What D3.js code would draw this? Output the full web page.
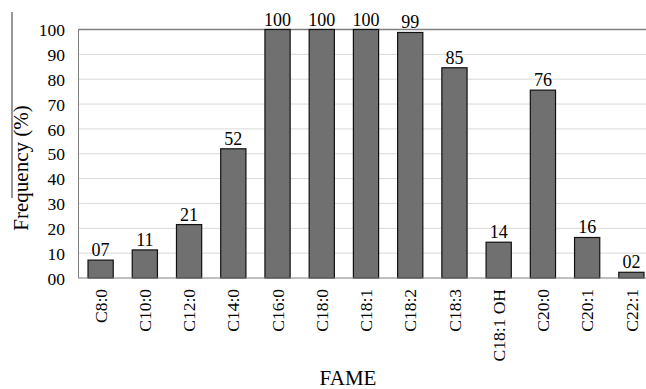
<!DOCTYPE html>
<html><head><meta charset="utf-8">
<script src="https://cdn.jsdelivr.net/npm/d3@7"></script>
<style>body{margin:0;background:#fff}svg{display:block}text{font-family:"Liberation Serif","Times New Roman",serif;fill:#000}</style>
</head><body>
<script>
const categories = ["C8:0","C10:0","C12:0","C14:0","C16:0","C18:0","C18:1","C18:2","C18:3","C18:1 OH","C20:0","C20:1","C22:1"];
const values = [7.2, 11.3, 21.5, 52, 100, 100, 100, 98.8, 84.6, 14.4, 75.6, 16.3, 2.3];
const valueLabels = ["07","11","21","52","100","100","100","99","85","14","76","16","02"];
const yTicks = [0,10,20,30,40,50,60,70,80,90,100];
const yTickLabels = ["00","10","20","30","40","50","60","70","80","90","100"];

const W = 646, H = 389;
const svg = d3.select("body").append("svg").attr("width", W).attr("height", H);
const x = d3.scaleBand().domain(categories).range([78, 653]).paddingInner(0.43).paddingOuter(0.215);
const y = d3.scaleLinear().domain([0, 100]).range([278, 29.5]);

// grid
svg.append("g").selectAll("line").data(yTicks.filter(d => d > 0 && d < 100)).join("line")
  .attr("x1", 78).attr("x2", W).attr("y1", d => y(d)).attr("y2", d => y(d))
  .attr("stroke", "#d9d9d9").attr("stroke-width", 1);
// top border and left line
svg.append("line").attr("x1", 78).attr("x2", W).attr("y1", y(100)).attr("y2", y(100)).attr("stroke", "#808080").attr("stroke-width", 1.5);
svg.append("line").attr("x1", 78.5).attr("x2", 78.5).attr("y1", y(100)).attr("y2", y(0)).attr("stroke", "#808080").attr("stroke-width", 1);

// y axis labels
const yAxis = d3.axisLeft(y).tickValues(yTicks).tickFormat((d, i) => yTickLabels[i]).tickSize(0).tickPadding(13);
const ya = svg.append("g").attr("transform", "translate(78,0)").call(yAxis);
ya.select(".domain").remove();
ya.selectAll("text").style("font-size", "17.5px").attr("dy", "0.35em");

// bars
svg.append("g").selectAll("rect").data(values).join("rect")
  .attr("x", (d, i) => x(categories[i]) + 0.5)
  .attr("y", d => y(d))
  .attr("width", x.bandwidth())
  .attr("height", d => y(0) - y(d))
  .attr("fill", "#707070").attr("stroke", "#111").attr("stroke-width", 1.2);

// baseline
svg.append("line").attr("x1", 78).attr("x2", W).attr("y1", y(0)).attr("y2", y(0)).attr("stroke", "#808080").attr("stroke-width", 1.2);

// value labels
svg.append("g").selectAll("text").data(values).join("text")
  .attr("x", (d, i) => x(categories[i]) + x.bandwidth() / 2 + 0.5)
  .attr("y", d => y(d) - 4)
  .attr("text-anchor", "middle").style("font-size", "18px")
  .text((d, i) => valueLabels[i]);

// x axis labels
const xAxis = d3.axisBottom(x).tickSize(0).tickPadding(0);
const xa = svg.append("g").attr("transform", "translate(0.5," + y(0) + ")").call(xAxis);
xa.select(".domain").remove();
xa.selectAll("text")
  .style("font-size", "17.5px")
  .attr("text-anchor", "end")
  .attr("transform", "rotate(-90)")
  .attr("x", -11).attr("y", 0).attr("dy", "0.35em");

// axis titles
svg.append("text").attr("x", 348).attr("y", 385).attr("text-anchor", "middle").style("font-size", "21px").text("FAME");
svg.append("text").attr("transform", "translate(28,168) rotate(-90)").attr("text-anchor", "middle").style("font-size", "21px").text("Frequency (%)");
svg.append("line").attr("x1", 12).attr("x2", 12).attr("y1", 12).attr("y2", 198).attr("stroke", "#333").attr("stroke-width", 1);
</script>
</body></html>
